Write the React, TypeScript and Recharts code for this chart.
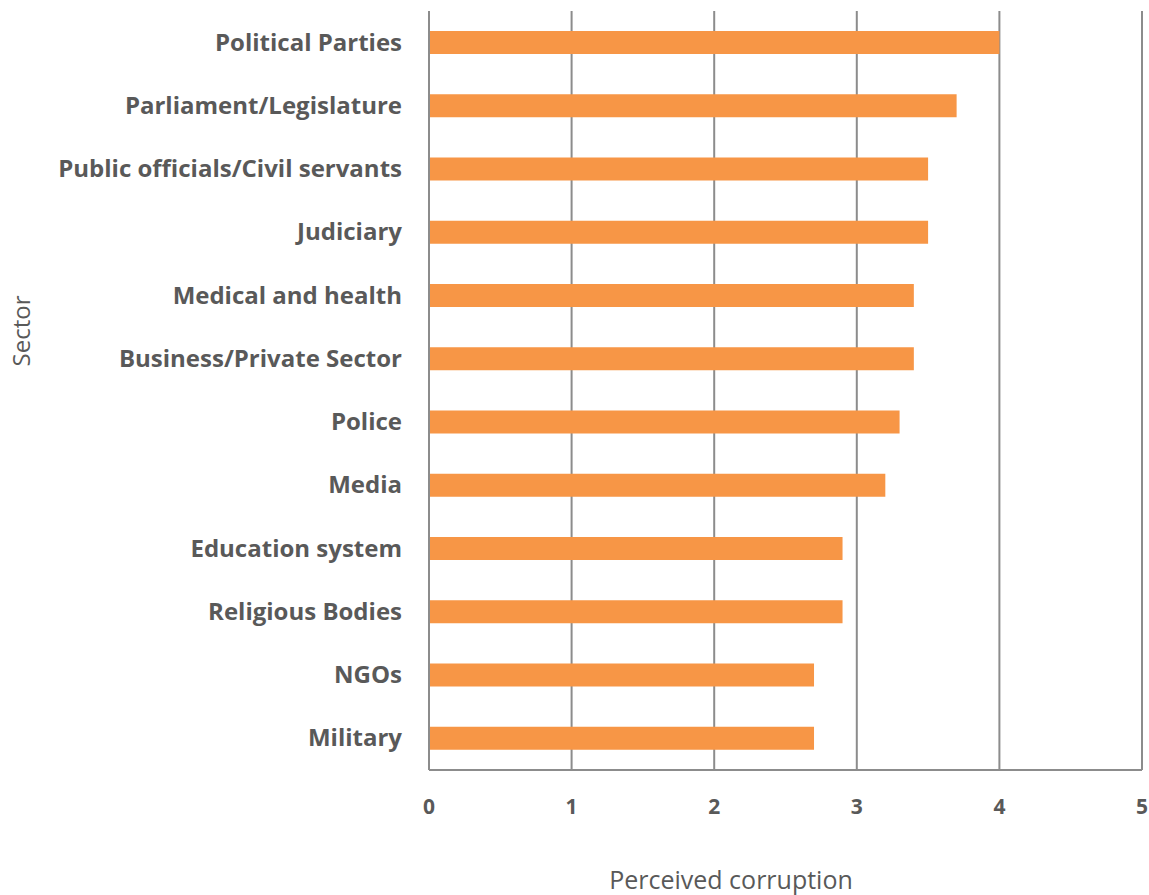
import { BarChart, Bar, XAxis, YAxis, CartesianGrid, Label } from "recharts"

const sectors = [
  "Political Parties",
  "Parliament/Legislature",
  "Public officials/Civil servants",
  "Judiciary",
  "Medical and health",
  "Business/Private Sector",
  "Police",
  "Media",
  "Education system",
  "Religious Bodies",
  "NGOs",
  "Military",
]
const corruption = [4.0, 3.7, 3.5, 3.5, 3.4, 3.4, 3.3, 3.2, 2.9, 2.9, 2.7, 2.7]
const xTicks = [0, 1, 2, 3, 4, 5]

const data = sectors.map((sector, i) => ({ sector, value: corruption[i] }))

const FONT = "'Open Sans', 'Noto Sans', sans-serif"
const GRID = "#8c8c8c"
const TEXT = "#595959"

// eslint-disable-next-line @typescript-eslint/no-explicit-any
function SectorTick({ x, y, payload }: any) {
  return (
    <text x={x - 19} y={y} dy={8} textAnchor="end" fontFamily={FONT} fontWeight={700} fontSize={24} fill={TEXT}>
      {payload.value}
    </text>
  )
}

// eslint-disable-next-line @typescript-eslint/no-explicit-any
function ValueTick({ x, y, payload }: any) {
  return (
    <text x={x} y={y + 29} dy={7} textAnchor="middle" fontFamily={FONT} fontWeight={700} fontSize={21} fill={TEXT}>
      {payload.value}
    </text>
  )
}

export default function App() {
  return (
    <div style={{ position: "absolute", left: 0, top: 0, width: 1149, height: 895, background: "#fff" }}>
      <BarChart
        width={1149}
        height={895}
        data={data}
        layout="vertical"
        margin={{ top: 11, right: 7, bottom: 0, left: 0 }}
        barCategoryGap={20}
      >
        <CartesianGrid horizontal={false} stroke={GRID} strokeWidth={2} />
        <XAxis
          type="number"
          domain={[0, 5]}
          ticks={xTicks}
          height={125}
          tickLine={false}
          axisLine={{ stroke: GRID, strokeWidth: 2 }}
          tick={<ValueTick />}
          interval={0}
        >
          <Label
            content={() => (
              <text x={731} y={889} textAnchor="middle" fontFamily={FONT} fontSize={25} fill={TEXT}>
                Perceived corruption
              </text>
            )}
          />
        </XAxis>
        <YAxis
          type="category"
          dataKey="sector"
          width={429}
          tickLine={false}
          axisLine={{ stroke: GRID, strokeWidth: 2 }}
          tick={<SectorTick />}
          interval={0}
        >
          <Label
            content={() => (
              <text
                x={30}
                y={331}
                transform="rotate(-90 30 331)"
                textAnchor="middle"
                fontFamily={FONT}
                fontSize={24}
                fill={TEXT}
              >
                Sector
              </text>
            )}
          />
        </YAxis>
        <Bar dataKey="value" fill="#F79646" isAnimationActive={false} />
      </BarChart>
    </div>
  )
}
